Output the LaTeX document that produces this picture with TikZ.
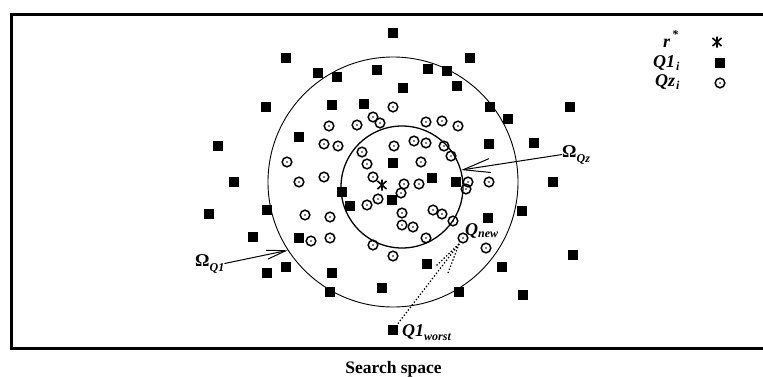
\documentclass[tikz,border=0pt]{standalone}
\usepackage{fontspec}
\setmainfont{Liberation Serif}
\usetikzlibrary{arrows.meta}
\newcommand{\bigf}{\fontsize{18}{18}\selectfont}
\newcommand{\subf}{\fontsize{12}{12}\selectfont}
\newcommand{\lowsub}[2]{\raisebox{-#1}{\subf\bfseries\itshape #2}}
\begin{document}
\begin{tikzpicture}[x=1pt,y=-1pt,
  qonemark/.style={rectangle,fill=black,minimum size=10.7pt,inner sep=0pt},
  qzmark/.style={circle,draw,line width=1.5pt,minimum size=9.6pt,inner sep=0pt,
     path picture={\fill (path picture bounding box.center) circle (0.8pt);}},
  lbl/.style={inner sep=0pt,font=\bigf\bfseries\itshape},
  astk/.pic={\draw[line width=1.6pt] (0,-5.5)--(0,5.5) (-4.5,-4)--(4.5,4) (-4.5,4)--(4.5,-4);},
  ring/.style={circle,draw,inner sep=0pt},
  ptr/.style={line width=1pt},
  dots/.style={dotted,line width=1.3pt}
  ]
\useasboundingbox (0,0) rectangle (763,376);
% frame
\draw[line width=3pt] (767,14.5) -- (11.5,14.5) -- (11.5,348.5) -- (767,348.5);
% search regions
\node[ring,line width=0.9pt,minimum size=250pt] (outer) at (393,182) {};
\node[ring,line width=1.3pt,minimum size=122pt] (inner) at (402,187) {};
% Q1 samples
\foreach \x/\y [count=\i] in {218/146,234/182,209/214,253/237,266/107,286/58,318/73,337/77,
  377/70,393/33,428/69,447/71,470/58,403/88,457/86,332/105,364/104,299/137,490/107,508/119,
  489/144,534/143,570/107,553/182,522/211,573/255,523/295,502/267,488/218,459/292,427/264,
  382/288,330/292,332/273,286/267,267/273,299/238,267/210,342/192,350/206,392/200,393/163,
  432/178,456/182}
  \node[qonemark] (s\i) at (\x,\y) {};
\node[qonemark] (qw) at (393,330) {};
% Qz samples
\foreach \x/\y [count=\i] in {393/107,373/117,380/123,329/126,357/125,426/122,442/121,458/126,
  324/144,338/146,394/146,414/141,426/143,444/146,451/156,362/152,287/162,367/164,421/162,
  299/182,324/177,373/177,404/184,419/184,468/182,489/182,466/189,378/199,367/205,401/193,
  305/215,330/217,311/241,330/238,402/213,433/210,442/214,402/225,413/227,453/221,426/238,
  373/245,393/256,486/248}
  \node[qzmark] (c\i) at (\x,\y) {};
\node[qzmark] (qn) at (463,238) {};
% best point
\coordinate (rs) at (382,185);
\pic at (rs) {astk};
% labels
\node[lbl,anchor=base west] (lq1) at (195,266) {\upshape Ω\lowsub{5pt}{Q1}};
\node[lbl,anchor=base west] (lqz) at (562,157) {\upshape Ω\lowsub{5pt}{Qz}};
\node[lbl,anchor=base west] (lqn) at (465,235) {Q\lowsub{2pt}{new}};
\node[lbl,anchor=base west] (lqw) at (402,336) {Q1\lowsub{4pt}{worst}};
% pointers
\draw[ptr,-{Straight Barb[length=19pt,width=9pt]}] (lq1.east) -- (outer.213);
\draw[ptr,-{Straight Barb[length=27pt,width=14pt]}] (lqz.west) -- (inner.16);
% dotted links
\coordinate (d1) at (436,266);
\coordinate (d2) at (448,273);
\draw[dots] ([shift={(-4,6)}]qn.center) -- (d1);
\draw[dots] ([shift={(-4,6)}]qn.center) -- (d2);
\draw[dots] ([shift={(-4,6)}]qn.center) -- (qw);
% legend
\node[lbl,anchor=base west] (lr) at (663,47) {r\hspace{2pt}\raisebox{9pt}{\subf\bfseries *}};
\node[lbl,anchor=base west] (lq) at (653,67) {Q1\hspace{1pt}\lowsub{3pt}{i}};
\node[lbl,anchor=base west] (lz) at (655,86) {Qz\hspace{1pt}\lowsub{3pt}{i}};
\coordinate (ks) at (717,42);
\pic at (ks) {astk};
\node[qonemark] (ksq) at (720,63) {};
\node[qzmark] (kc) at (720,83) {};
% caption
\node[anchor=base,inner sep=0pt,font=\fontsize{17.5}{17.5}\selectfont\bfseries] (cap) at (393.5,373) {Search space};
\end{tikzpicture}
\end{document}
